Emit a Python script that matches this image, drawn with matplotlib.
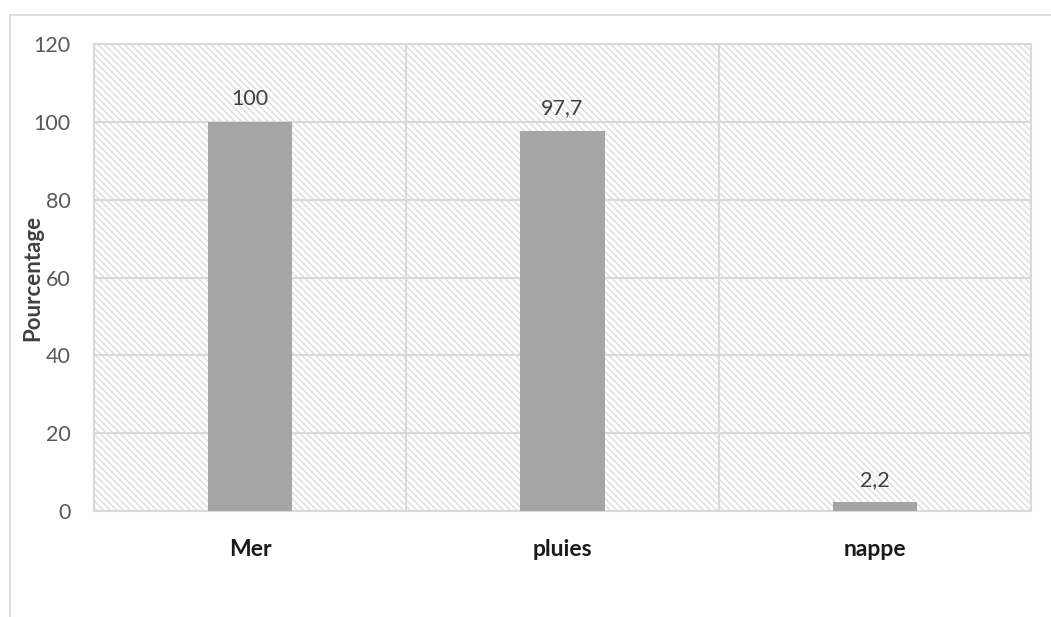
import matplotlib
matplotlib.use("Agg")
import matplotlib.pyplot as plt
from matplotlib.patches import Rectangle
from matplotlib.lines import Line2D

categories = ["Mer", "pluies", "nappe"]
values = [100, 97.7, 2.2]
yticks = [0, 20, 40, 60, 80, 100, 120]

plt.rcParams["font.family"] = ["Lato", "DejaVu Sans"]
plt.rcParams["hatch.linewidth"] = 1.0
plt.rcParams["hatch.color"] = "#dcdcdc"

W, H, DPI = 1051, 617, 100
fig = plt.figure(figsize=(W / DPI, H / DPI), dpi=DPI)

# outer chart frame (only top and left edges fall inside the canvas)
frame_col = "#d9d9d9"
fig.add_artist(Line2D([10 / W, 1.0], [1 - 15 / H, 1 - 15 / H], color=frame_col, lw=1.2,
                      transform=fig.transFigure))
fig.add_artist(Line2D([10 / W, 10 / W], [0.0, 1 - 15 / H], color=frame_col, lw=1.2,
                      transform=fig.transFigure))

left, right, top, bottom = 94, 1031, 44, 511
ax = fig.add_axes([left / W, 1 - bottom / H, (right - left) / W, (bottom - top) / H])

# hatched plot-area background
ax.add_patch(Rectangle((0, 0), 1, 1, transform=ax.transAxes, facecolor="white",
                       edgecolor="#dcdcdc", hatch="\\" * 5, lw=0, zorder=0))

x = list(range(len(categories)))
ax.bar(x, values, width=0.27, color="#a5a5a5", zorder=3)

for xi, v in zip(x, values):
    label = f"{v:g}".replace(".", ",")
    ax.annotate(label, (xi, v), xytext=(0, 9), textcoords="offset points",
                ha="center", va="bottom", fontsize=15.5, color="#404040", zorder=4)

ax.set_xlim(-0.5, len(categories) - 0.5)
ax.set_ylim(0, 120)
ax.set_yticks(yticks)
ax.set_yticklabels([str(t) for t in yticks], fontsize=15.5, color="#595959")
ax.set_xticks(x)
ax.set_xticklabels(categories, fontsize=16.5, fontweight="bold", color="#1a1a1a")
ax.tick_params(axis="both", length=0)
ax.tick_params(axis="y", pad=17)
ax.tick_params(axis="x", pad=20)

grid_col = "#d9d9d9"
for t in yticks:
    ax.axhline(t, color=grid_col, lw=1.5, zorder=1)
for b in [0.5, 1.5]:
    ax.axvline(b, color=grid_col, lw=1.5, zorder=1)

for s in ax.spines.values():
    s.set_color(grid_col)
    s.set_linewidth(1.5)

ax.set_ylabel("Pourcentage", fontsize=16, fontweight="bold", color="#404040")
ax.yaxis.set_label_coords(-51 / (right - left), 0.5)

fig.savefig("out.png", dpi=DPI, facecolor="white")
